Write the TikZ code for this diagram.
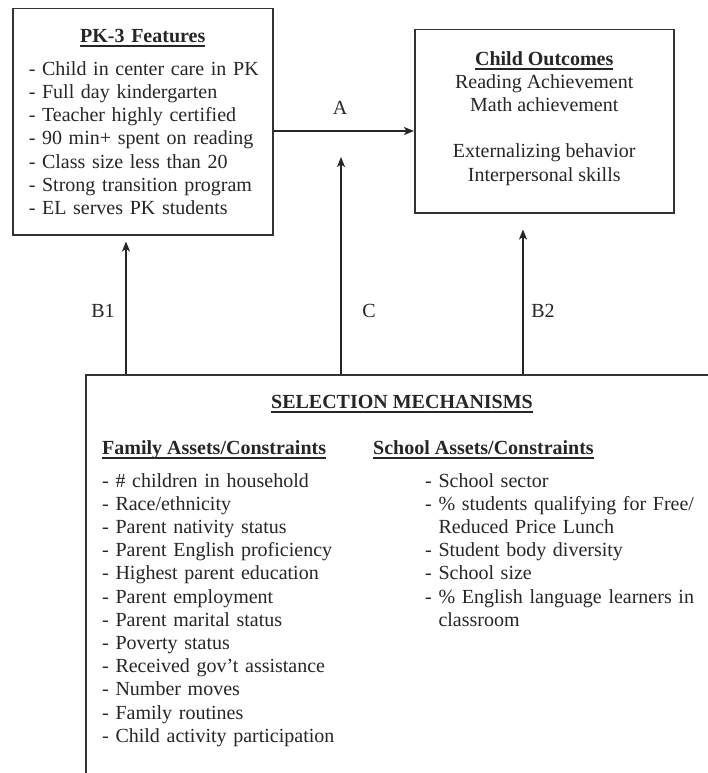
\documentclass[tikz,border=0pt]{standalone}
\usepackage{fontspec}
\setmainfont{Liberation Serif}
\usetikzlibrary{arrows.meta}
\newcommand{\ultext}[1]{\setbox0\hbox{#1}\rlap{\vrule width\wd0 height -3.2pt depth 5pt}\box0}
\tikzstyle{box}=[draw=black!80,%
                 line width=1.5pt,%
                 rectangle,%
                 inner sep=0pt]
\tikzstyle{txt}=[font=\fontsize{20}{23.2}\selectfont, text=black!85]
\tikzstyle{lbl}=[txt, inner sep=0pt]
\tikzstyle{arr}=[draw=black!85, line width=1.5pt, -{Stealth[length=10pt,width=8pt,inset=2.5pt]}]

\begin{document}
\begin{tikzpicture}[x=1pt,y=-1pt]
            \useasboundingbox (0,0) rectangle (708,773);
            \clip (0,0) rectangle (708,773);
            \fill[white] (0,0) rectangle (708,773);
            % boxes
            \node[box,txt,anchor=north west,text width=244pt,inner xsep=8pt,minimum height=226pt] (pk) at (12,8)
              {\centering\ultext{\textbf{PK-3 Features}}\par\vspace{10pt}\raggedright
               \hspace*{8pt}- Child in center care in PK\\\hspace*{8pt}- Full day kindergarten\\%
               \hspace*{8pt}- Teacher highly certified\\\hspace*{8pt}- 90 min+ spent on reading\\%
               \hspace*{8pt}- Class size less than 20\\\hspace*{8pt}- Strong transition program\\%
               \hspace*{8pt}- EL serves PK students};
            \node[box,txt,anchor=north west,minimum width=259pt,minimum height=183pt,align=center] (co) at (414,29)
              {\ultext{\textbf{Child Outcomes}}\\Reading Achievement\\Math achievement\\[23.2pt]%
               Externalizing behavior\\Interpersonal skills\\[-13pt]\mbox{}};
            \node[box,anchor=north west,minimum width=700pt,minimum height=450pt] (sel) at (85,374) {};
            \node[lbl,anchor=base] (selt) at (402,408) {\ultext{\textbf{SELECTION MECHANISMS}}};
            \node[lbl,anchor=base west] (famt) at (102,454) {\ultext{\textbf{Family Assets/Constraints}}};
            \node[lbl,anchor=base west] (scht) at (373,454) {\ultext{\textbf{School Assets/Constraints}}};
            \node[lbl,anchor=base west,text width=250pt,align=left] (faml) at (102,487)
              {- \# children in household\\- Race/ethnicity\\- Parent nativity status\\%
               - Parent English proficiency\\- Highest parent education\\- Parent employment\\%
               - Parent marital status\\- Poverty status\\- Received gov’t assistance\\%
               - Number moves\\- Family routines\\- Child activity participation};
            \node[lbl,anchor=base west,text width=270pt,align=left] (schl) at (425,487)
              {- School sector\\- \% students qualifying for Free/\\\phantom{- }Reduced Price Lunch\\%
               - Student body diversity\\- School size\\- \% English language learners in\\%
               \phantom{- }classroom};
            % arrows
            \coordinate (ay) at (0,131);
            \coordinate (b1) at (126,374);
            \coordinate (cf) at (341,374);
            \coordinate (b2) at (523,374);
            \draw [arr] (pk.east |- ay) -- (co.west |- ay);
            \draw [arr,shorten >=6pt] (b1) -- (b1 |- pk.south);
            \draw [arr,shorten >=26pt] (cf) -- (cf |- ay);
            \draw [arr,shorten >=16pt] (b2) -- (b2 |- co.south);
            \node[lbl] (la) at (340,108) {A};
            \node[lbl] (lb1) at (103,311) {B1};
            \node[lbl] (lc) at (369,311) {C};
            \node[lbl] (lb2) at (543,311) {B2};
  \end{tikzpicture}
\end{document}
